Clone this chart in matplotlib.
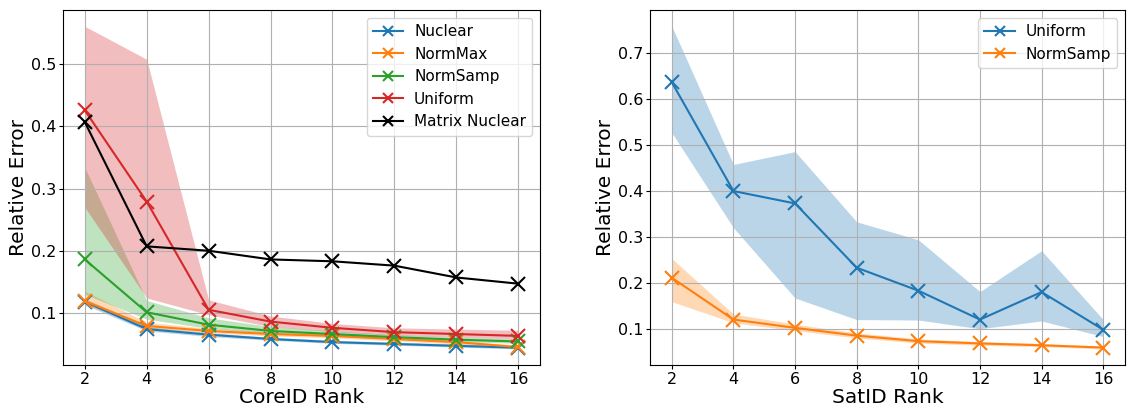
import numpy as np
import matplotlib
matplotlib.use('Agg')
import matplotlib.pyplot as plt

ranks = [2, 4, 6, 8, 10, 12, 14, 16]

# CoreID panel
core_nuclear = [0.118, 0.074, 0.065, 0.058, 0.053, 0.050, 0.047, 0.044]
core_nuclear_lo = [0.113, 0.071, 0.062, 0.056, 0.051, 0.048, 0.045, 0.042]
core_nuclear_hi = [0.123, 0.078, 0.068, 0.061, 0.056, 0.053, 0.050, 0.047]
core_normmax = [0.119, 0.079, 0.071, 0.066, 0.063, 0.058, 0.053, 0.045]
core_normmax_lo = [0.114, 0.076, 0.068, 0.063, 0.060, 0.055, 0.050, 0.042]
core_normmax_hi = [0.135, 0.085, 0.075, 0.070, 0.066, 0.061, 0.056, 0.048]
core_normsamp = [0.186, 0.101, 0.081, 0.071, 0.066, 0.061, 0.057, 0.054]
core_normsamp_lo = [0.130, 0.090, 0.075, 0.067, 0.062, 0.058, 0.054, 0.051]
core_normsamp_hi = [0.334, 0.120, 0.092, 0.078, 0.071, 0.065, 0.061, 0.058]
core_uniform = [0.426, 0.279, 0.105, 0.086, 0.076, 0.069, 0.066, 0.063]
core_uniform_lo = [0.270, 0.124, 0.097, 0.078, 0.070, 0.064, 0.061, 0.058]
core_uniform_hi = [0.561, 0.508, 0.121, 0.095, 0.083, 0.076, 0.074, 0.072]
core_matrix = [0.407, 0.207, 0.200, 0.186, 0.183, 0.176, 0.157, 0.147]

# SatID panel
sat_uniform = [0.637, 0.400, 0.373, 0.233, 0.183, 0.120, 0.180, 0.098]
sat_uniform_lo = [0.527, 0.320, 0.167, 0.120, 0.119, 0.100, 0.117, 0.083]
sat_uniform_hi = [0.759, 0.458, 0.486, 0.333, 0.294, 0.181, 0.270, 0.120]
sat_normsamp = [0.211, 0.120, 0.102, 0.085, 0.073, 0.068, 0.064, 0.059]
sat_normsamp_lo = [0.159, 0.113, 0.096, 0.080, 0.069, 0.064, 0.061, 0.056]
sat_normsamp_hi = [0.253, 0.132, 0.110, 0.091, 0.078, 0.072, 0.068, 0.062]

fig = plt.figure(figsize=(11.27, 4.07), dpi=100)
ax1 = fig.add_axes([0.056, 0.103, 0.423, 0.872])
ax2 = fig.add_axes([0.577, 0.103, 0.421, 0.872])

kw = dict(marker='x', markersize=10, markeredgewidth=1.5, linewidth=1.5)

core = [
    ('Nuclear', 'C0', core_nuclear, core_nuclear_lo, core_nuclear_hi),
    ('NormMax', 'C1', core_normmax, core_normmax_lo, core_normmax_hi),
    ('NormSamp', 'C2', core_normsamp, core_normsamp_lo, core_normsamp_hi),
    ('Uniform', 'C3', core_uniform, core_uniform_lo, core_uniform_hi),
]
for name, c, y, lo, hi in core:
    ax1.plot(ranks, y, color=c, label=name, **kw)
    ax1.fill_between(ranks, lo, hi, color=c, alpha=0.3, linewidth=0)
ax1.plot(ranks, core_matrix, color='black', label='Matrix Nuclear', **kw)

ax2.plot(ranks, sat_uniform, color='C0', label='Uniform', **kw)
ax2.fill_between(ranks, sat_uniform_lo, sat_uniform_hi, color='C0', alpha=0.3, linewidth=0)
ax2.plot(ranks, sat_normsamp, color='C1', label='NormSamp', **kw)
ax2.fill_between(ranks, sat_normsamp_lo, sat_normsamp_hi, color='C1', alpha=0.3, linewidth=0)

for ax, xl in [(ax1, 'CoreID Rank'), (ax2, 'SatID Rank')]:
    ax.set_xticks(ranks)
    ax.grid(True)
    ax.tick_params(labelsize=11.5, length=3, pad=2)
    ax.set_xlabel(xl, fontsize=14.5)
    ax.xaxis.set_label_coords(0.5, -0.064)
    ax.set_ylabel('Relative Error', fontsize=14.5, labelpad=2)
    ax.legend(fontsize=11, loc='upper right', markerscale=0.7,
              labelspacing=0.5, handletextpad=0.7)

ax1.set_yticks([0.1, 0.2, 0.3, 0.4, 0.5])
ax2.set_yticks([0.1, 0.2, 0.3, 0.4, 0.5, 0.6, 0.7])

fig.savefig('out.png', dpi=100)
